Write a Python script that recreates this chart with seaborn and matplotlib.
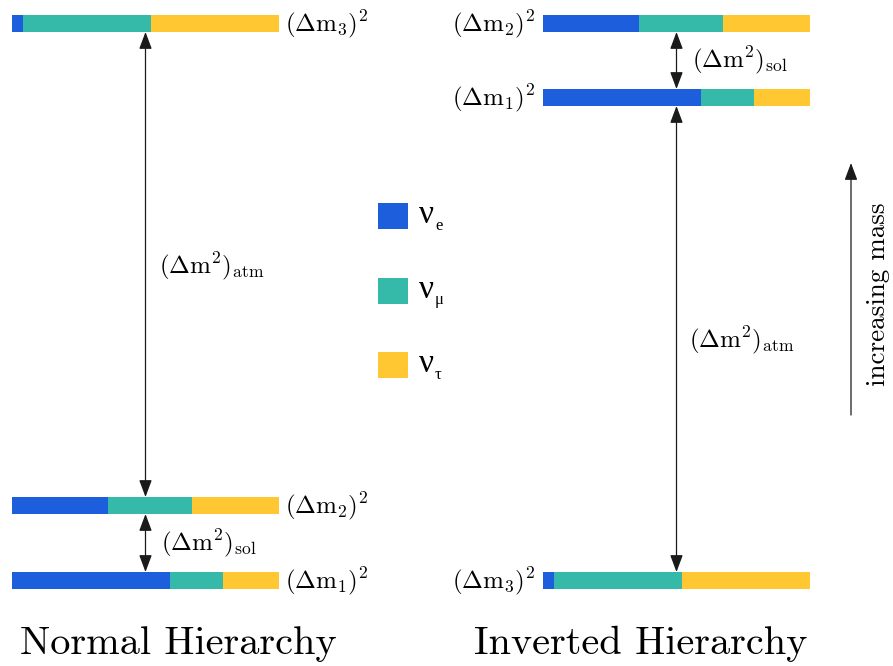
import numpy as np
import pandas as pd
import matplotlib
matplotlib.use("Agg")
import matplotlib.pyplot as plt
from matplotlib.patches import Rectangle
import seaborn as sns

# ---- data ----
flavour_subs = ["e", "μ", "τ"]
flavour_colors = ["#1C5EDC", "#35B9A8", "#FFC833"]
mass_states = ["1", "2", "3"]
frac_e = [0.592, 0.360, 0.041]
frac_mu = [0.199, 0.315, 0.479]
frac_tau = [0.209, 0.325, 0.480]
titles = ["Normal Hierarchy", "Inverted Hierarchy"]

# ---- layout (figure pixels) ----
W, H = 893, 666
BAR_H = 17
normal_y = [580.5, 505.5, 23.5]      # m1, m2, m3
inverted_y = [97.5, 23.5, 580.5]     # m1, m2, m3
normal_x = (12, 279)
inverted_x = (543, 810)

sns.set_theme(style="white")
plt.rcParams["mathtext.fontset"] = "cm"
plt.rcParams["font.family"] = ["cmr10", "DejaVu Serif"]
plt.rcParams["axes.unicode_minus"] = False
plt.rcParams["text.color"] = "black"

fig = plt.figure(figsize=(W / 100, H / 100), dpi=100)


def draw_bars(xr, ys):
    ax = fig.add_axes([xr[0] / W, 0, (xr[1] - xr[0]) / W, 1])
    df = pd.DataFrame({"y": ys, "e": frac_e, "mu": frac_mu, "tau": frac_tau})
    tot = df.e + df.mu + df.tau
    native = np.min(np.diff(np.sort(ys)))
    w = BAR_H / native
    cums = [tot / tot, (df.e + df.mu) / tot, df.e / tot]
    for vals, c in zip(cums, flavour_colors[::-1]):
        sns.barplot(x=vals.values, y=df.y.values, orient="h", native_scale=True,
                    width=w, color=c, saturation=1, errorbar=None, ax=ax,
                    linewidth=0)
    ax.set_xlim(0, 1)
    ax.set_ylim(H, 0)
    ax.axis("off")
    return ax


draw_bars(normal_x, normal_y)
draw_bars(inverted_x, inverted_y)

ov = fig.add_axes([0, 0, 1, 1])
ov.set_xlim(0, W)
ov.set_ylim(H, 0)
ov.axis("off")
ov.patch.set_visible(False)

ARROW = "<|-|>,head_length=0.8,head_width=0.3"


def darrow(x, y0, y1):
    ov.annotate("", xy=(x, y0), xytext=(x, y1),
                arrowprops=dict(arrowstyle=ARROW, color="k", lw=0.9,
                                shrinkA=0, shrinkB=0, mutation_scale=13))


lab_fs = 18
for s, y in zip(mass_states, normal_y):
    ov.text(285, y + 1, r"$(\Delta\mathrm{m}_%s)^2$" % s, fontsize=lab_fs,
            ha="left", va="center")
for s, y in zip(mass_states, inverted_y):
    ov.text(536, y + 1, r"$(\Delta\mathrm{m}_%s)^2$" % s, fontsize=lab_fs,
            ha="right", va="center")

nxc = sum(normal_x) / 2
ixc = sum(inverted_x) / 2
darrow(nxc, normal_y[2] + BAR_H / 2, normal_y[1] - BAR_H / 2)
darrow(nxc, normal_y[1] + BAR_H / 2, normal_y[0] - BAR_H / 2)
darrow(ixc, inverted_y[1] + BAR_H / 2, inverted_y[0] - BAR_H / 2)
darrow(ixc, inverted_y[0] + BAR_H / 2, inverted_y[2] - BAR_H / 2)

ov.text(159, 266, r"$(\Delta\mathrm{m}^2)_\mathrm{atm}$", fontsize=lab_fs, ha="left", va="center")
ov.text(161, 543, r"$(\Delta\mathrm{m}^2)_\mathrm{sol}$", fontsize=lab_fs, ha="left", va="center")
ov.text(692, 60, r"$(\Delta\mathrm{m}^2)_\mathrm{sol}$", fontsize=lab_fs, ha="left", va="center")
ov.text(689, 340, r"$(\Delta\mathrm{m}^2)_\mathrm{atm}$", fontsize=lab_fs, ha="left", va="center")

# legend
serif = ["Liberation Serif", "DejaVu Serif"]
for i, (sub, c) in enumerate(zip(flavour_subs, flavour_colors)):
    yc = 216 + i * 74.5
    ov.add_patch(Rectangle((378, yc - 13), 30, 26, color=c, lw=0))
    ov.text(419, yc + 7, "ν", fontsize=24, family=serif,
            ha="left", va="baseline")
    ov.text(435, yc + 14, sub, fontsize=12, family=serif,
            ha="left", va="baseline")

# increasing mass
ov.annotate("", xy=(851, 163), xytext=(851, 415),
            arrowprops=dict(arrowstyle="-|>,head_length=0.8,head_width=0.3",
                            color="k", lw=0.9, shrinkA=0, shrinkB=0,
                            mutation_scale=13))
ov.text(878, 294, "increasing mass", fontsize=19.5, rotation=90,
        ha="center", va="center")

ov.text(178, 644, titles[0], fontsize=29, ha="center", va="center")
ov.text(641, 644, titles[1], fontsize=29, ha="center", va="center")

fig.savefig("out.png", dpi=100)
